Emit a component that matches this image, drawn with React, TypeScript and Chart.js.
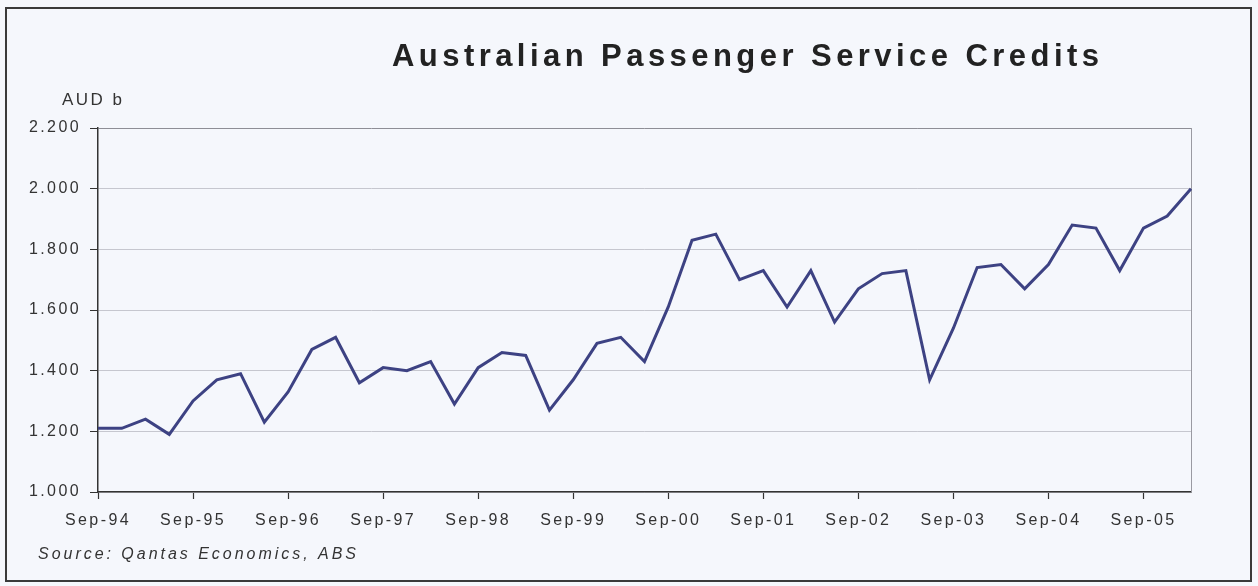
import React, { useEffect, useRef } from "react";
import { Chart, registerables } from "chart.js";

Chart.register(...registerables);

const TITLE = "Australian Passenger Service Credits";
const UNIT_LABEL = "AUD b";
const SOURCE = "Source: Qantas Economics, ABS";

const quarters = [
  "Sep-94", "Dec-94", "Mar-95", "Jun-95",
  "Sep-95", "Dec-95", "Mar-96", "Jun-96",
  "Sep-96", "Dec-96", "Mar-97", "Jun-97",
  "Sep-97", "Dec-97", "Mar-98", "Jun-98",
  "Sep-98", "Dec-98", "Mar-99", "Jun-99",
  "Sep-99", "Dec-99", "Mar-00", "Jun-00",
  "Sep-00", "Dec-00", "Mar-01", "Jun-01",
  "Sep-01", "Dec-01", "Mar-02", "Jun-02",
  "Sep-02", "Dec-02", "Mar-03", "Jun-03",
  "Sep-03", "Dec-03", "Mar-04", "Jun-04",
  "Sep-04", "Dec-04", "Mar-05", "Jun-05",
  "Sep-05", "Dec-05", "Mar-06",
];

const credits = [
  1.21, 1.21, 1.24, 1.19,
  1.30, 1.37, 1.39, 1.23,
  1.33, 1.47, 1.51, 1.36,
  1.41, 1.40, 1.43, 1.29,
  1.41, 1.46, 1.45, 1.27,
  1.37, 1.49, 1.51, 1.43,
  1.61, 1.83, 1.85, 1.70,
  1.73, 1.61, 1.73, 1.56,
  1.67, 1.72, 1.73, 1.37,
  1.54, 1.74, 1.75, 1.67,
  1.75, 1.88, 1.87, 1.73,
  1.87, 1.91, 2.00,
];

const xTickLabels = [
  "Sep-94", "Sep-95", "Sep-96", "Sep-97", "Sep-98", "Sep-99",
  "Sep-00", "Sep-01", "Sep-02", "Sep-03", "Sep-04", "Sep-05",
];

const Y_MIN = 1.0;
const Y_MAX = 2.2;
const Y_STEP = 0.2;

const BG = "#f5f7fc";
const LINE = "#3d4283";
const FONT = '"Liberation Sans", Arial, sans-serif';

function drawSpaced(ctx: any, text: string, font: string, x: number, y: number, width: number, color: string) {
  ctx.font = font;
  ctx.letterSpacing = "0px";
  const w = ctx.measureText(text).width;
  const ls = Math.max(0, (width - w) / Math.max(1, text.length - 1));
  ctx.letterSpacing = ls + "px";
  ctx.fillStyle = color;
  ctx.textAlign = "left";
  ctx.textBaseline = "alphabetic";
  ctx.fillText(text, x, y);
  ctx.letterSpacing = "0px";
}

const decor = {
  id: "decor",
  beforeDraw(chart: any) {
    const ctx = chart.ctx;
    ctx.save();
    ctx.fillStyle = BG;
    ctx.fillRect(0, 0, chart.width, chart.height);
    ctx.restore();
    ctx.letterSpacing = "2.4px";
  },
  beforeDatasetsDraw(chart: any) {
    const { ctx, chartArea } = chart;
    ctx.save();
    ctx.strokeStyle = "#9a9aa2";
    ctx.lineWidth = 1;
    ctx.beginPath();
    ctx.moveTo(chartArea.right + 0.5, chartArea.top);
    ctx.lineTo(chartArea.right + 0.5, chartArea.bottom);
    ctx.stroke();
    ctx.restore();
  },
  afterDraw(chart: any) {
    const ctx = chart.ctx;
    ctx.save();
    ctx.letterSpacing = "0px";
    ctx.strokeStyle = "#3a3a3a";
    ctx.lineWidth = 2;
    ctx.strokeRect(6, 8, 1245, 573);
    drawSpaced(ctx, TITLE, `bold 31px ${FONT}`, 392, 66, 707, "#222222");
    drawSpaced(ctx, UNIT_LABEL, `17px ${FONT}`, 62, 105, 60, "#333333");
    drawSpaced(ctx, SOURCE, `italic 16px ${FONT}`, 38, 559, 318, "#333333");
    ctx.restore();
    ctx.letterSpacing = "0px";
  },
};

export default function App() {
  const ref = useRef<HTMLCanvasElement | null>(null);

  useEffect(() => {
    if (!ref.current) return;
    const shown = new Set(xTickLabels);
    const chart = new Chart(ref.current, {
      type: "line",
      data: {
        labels: quarters,
        datasets: [
          {
            label: "Credits",
            data: credits,
            borderColor: LINE,
            borderWidth: 3,
            pointRadius: 0,
            tension: 0,
            fill: false,
          },
        ],
      },
      options: {
        animation: false,
        responsive: false,
        devicePixelRatio: 1,
        layout: { padding: { left: 0, top: 128, right: 67, bottom: 44 } },
        plugins: {
          legend: { display: false },
          tooltip: { enabled: false },
          title: { display: false },
        },
        scales: {
          x: {
            type: "category",
            offset: false,
            afterFit: (s: any) => { s.height = 50; },
            grid: {
              display: true,
              drawOnChartArea: false,
              drawTicks: true,
              tickLength: 7,
              tickColor: "#333333",
              tickWidth: 1.2,
            },
            border: { display: true, color: "#333333", width: 1.5 },
            ticks: {
              autoSkip: false,
              maxRotation: 0,
              minRotation: 0,
              padding: 12,
              color: "#333333",
              font: { family: FONT, size: 16 },
              callback: function (this: any, _v: any, i: number) {
                const l = quarters[i];
                return shown.has(l) ? l : null;
              },
            },
          },
          y: {
            min: Y_MIN,
            max: Y_MAX,
            afterFit: (s: any) => { s.width = 98; },
            grid: {
              color: (c: any) => (c.tick && Math.abs(c.tick.value - Y_MAX) < 1e-6 ? "#8e8e96" : "#c6c7cf"),
              lineWidth: 1,
              drawTicks: true,
              tickLength: 8,
              tickColor: "#333333",
            },
            border: { display: true, color: "#333333", width: 1.5 },
            ticks: {
              stepSize: Y_STEP,
              padding: 9,
              color: "#333333",
              font: { family: FONT, size: 16 },
              callback: (v: any) => Number(v).toFixed(3),
            },
          },
        },
      },
      plugins: [decor],
    });
    return () => chart.destroy();
  }, []);

  return (
    <canvas
      ref={ref}
      width={1258}
      height={586}
      style={{ position: "fixed", left: 0, top: 0, width: 1258, height: 586, display: "block" }}
    />
  );
}
